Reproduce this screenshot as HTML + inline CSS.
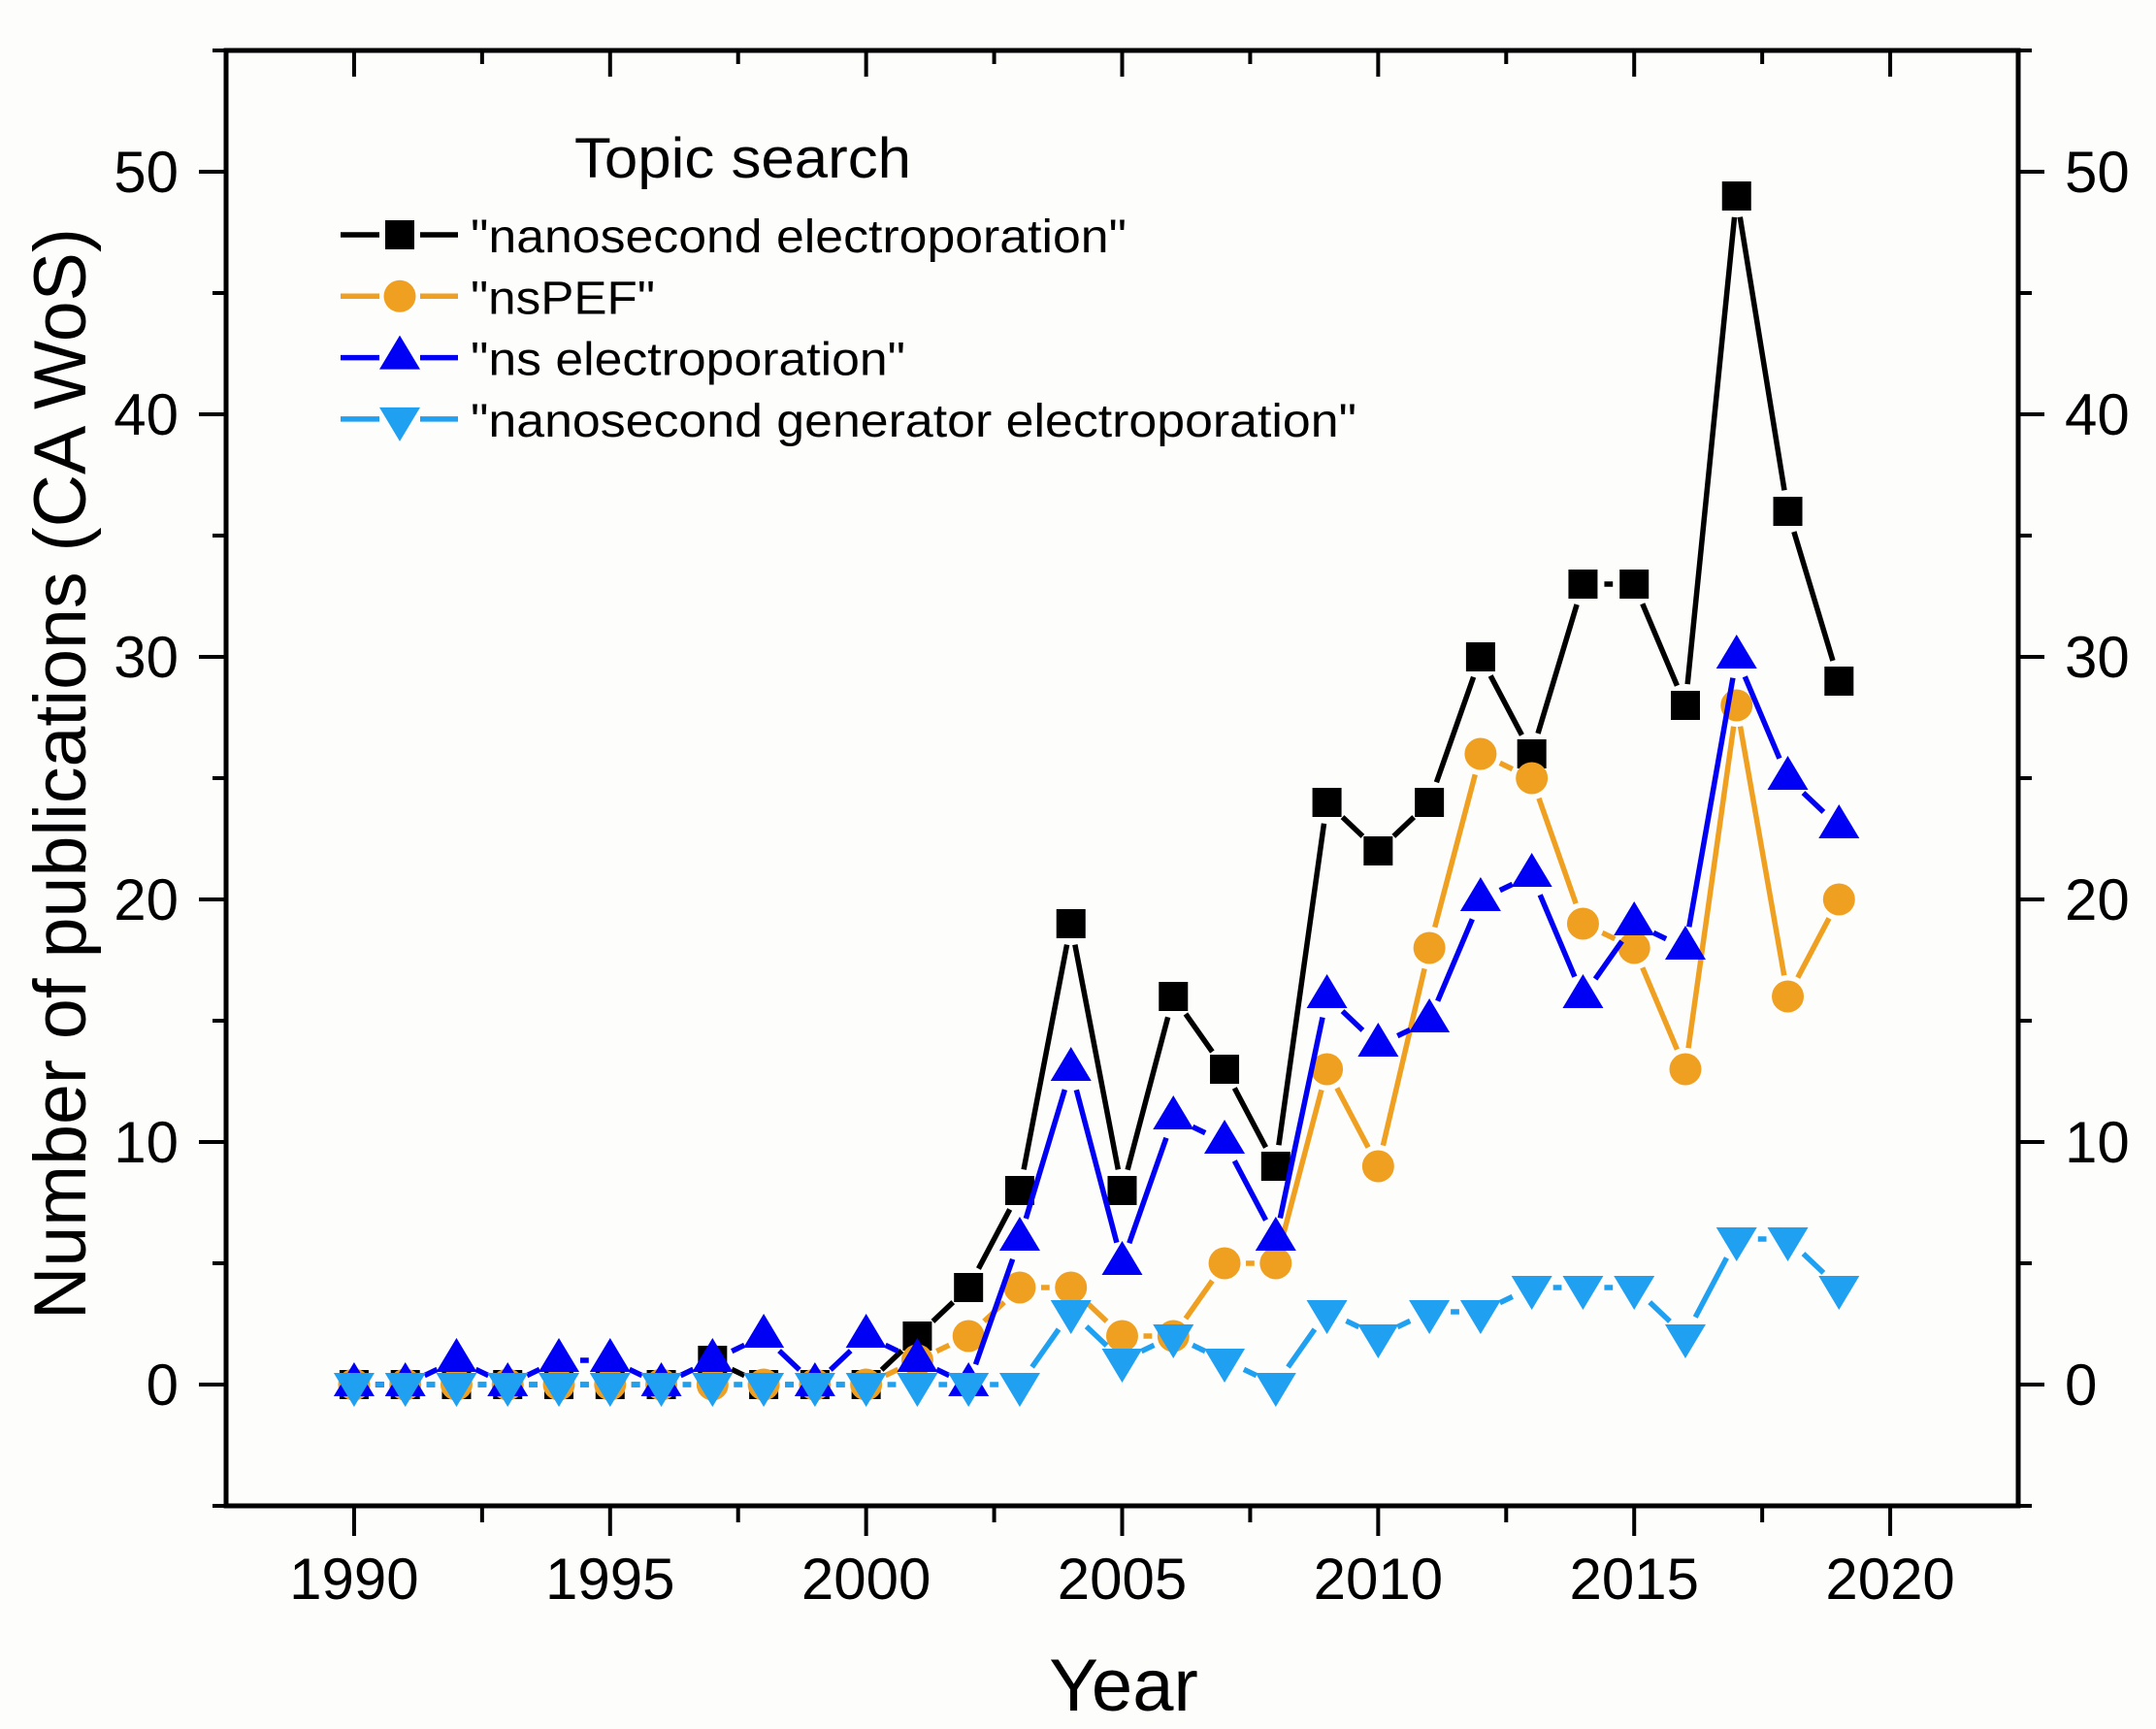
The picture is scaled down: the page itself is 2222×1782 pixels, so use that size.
<!DOCTYPE html>
<html><head><meta charset="utf-8">
<style>
html,body{margin:0;padding:0;background:#fdfdfb;}
svg{display:block;font-family:"Liberation Sans",Arial,sans-serif;}
</style></head>
<body>
<svg id="chart" width="2222" height="1782" viewBox="0 0 2222 1782" xmlns="http://www.w3.org/2000/svg">
<rect x="0" y="0" width="2222" height="1782" fill="#fdfdfb"/>
<g id="series"></g>
<g id="axes"></g>
<g id="legend">
  <text x="592" y="183" font-size="58" textLength="347" lengthAdjust="spacingAndGlyphs">Topic search</text>
</g>
<text x="1158" y="1763" font-size="76" text-anchor="middle">Year</text>
<text transform="translate(88,1360) rotate(-90)" font-size="76" textLength="1125" lengthAdjust="spacingAndGlyphs">Number of publications (CA WoS)</text>
</svg>
<script>
const years = [1990,1991,1992,1993,1994,1995,1996,1997,1998,1999,2000,2001,2002,2003,2004,2005,2006,2007,2008,2009,2010,2011,2012,2013,2014,2015,2016,2017,2018,2019];
const nanoElectro = [0,0,0,0,0,0,0,1,0,0,0,2,4,8,19,8,16,13,9,24,22,24,30,26,33,33,28,49,36,29];
const nsPEF = [0,0,0,0,0,0,0,0,0,0,0,1,2,4,4,2,2,5,5,13,9,18,26,25,19,18,13,28,16,20];
const nsElectro = [0,0,1,0,1,1,0,1,2,0,2,1,0,6,13,5,11,10,6,16,14,15,20,21,16,19,18,30,25,23];
const genElectro = [0,0,0,0,0,0,0,0,0,0,0,0,0,0,3,1,2,1,0,3,2,3,3,4,4,4,2,6,6,4];
const xTicks = [1990,1995,2000,2005,2010,2015,2020];
const yTicks = [0,10,20,30,40,50];
const legendLabels = ['"nanosecond electroporation"','"nsPEF"','"ns electroporation"','"nanosecond generator electroporation"'];
const legendWidths = [676,190,448,913];

const NS='http://www.w3.org/2000/svg';
const L=233,R=2080,T=52,B=1552;
const X0=1987.5,X1=2022.5,Y0=-5,Y1=55;
function sx(v){return L+(v-X0)/(X1-X0)*(R-L);}
function sy(v){return B-(v-Y0)/(Y1-Y0)*(B-T);}
function mk(tag,attrs,parent){const e=document.createElementNS(NS,tag);for(const k in attrs)e.setAttribute(k,attrs[k]);parent.appendChild(e);return e;}

const axes=document.getElementById('axes');
const seriesG=document.getElementById('series');
const legend=document.getElementById('legend');

function marker(shape,cx,cy,color,parent){
  let e;
  if(shape==='square'){e=mk('rect',{x:cx-15,y:cy-15,width:30,height:30,fill:color},parent);}
  else if(shape==='circle'){e=mk('circle',{cx:cx,cy:cy,r:16.5,fill:color},parent);}
  else if(shape==='up'){e=mk('polygon',{points:`${cx},${cy-23} ${cx-21},${cy+12} ${cx+21},${cy+12}`,fill:color},parent);}
  else {e=mk('polygon',{points:`${cx},${cy+23} ${cx-21},${cy-12} ${cx+21},${cy-12}`,fill:color},parent);}
  return e;
}

const defs=[
  {vals:nanoElectro,color:'#000000',shape:'square',name:'nanosecond-electroporation'},
  {vals:nsPEF,color:'#f0a020',shape:'circle',name:'nspef'},
  {vals:nsElectro,color:'#0000f5',shape:'up',name:'ns-electroporation'},
  {vals:genElectro,color:'#20a0f0',shape:'down',name:'nanosecond-generator-electroporation'}
];
const GAP=22;
defs.forEach((d,si)=>{
  const g=mk('g',{},seriesG);
  
  
  for(let i=0;i<years.length-1;i++){
    const x1=sx(years[i]),y1=sy(d.vals[i]),x2=sx(years[i+1]),y2=sy(d.vals[i+1]);
    const dx=x2-x1,dy=y2-y1,len=Math.hypot(dx,dy);
    if(len<=2*GAP+2)continue;
    const ux=dx/len,uy=dy/len;
    const seg=mk('line',{x1:x1+ux*GAP,y1:y1+uy*GAP,x2:x2-ux*GAP,y2:y2-uy*GAP,stroke:d.color,'stroke-width':5.5},g);
    
    
  }
  years.forEach((yr,i)=>{
    const m=marker(d.shape,sx(yr),sy(d.vals[i]),d.color,g);
    
    
  });
  const ly=242+si*63.3;
  const le=mk('g',{},legend);
  
  
  mk('line',{x1:351,y1:ly,x2:391,y2:ly,stroke:d.color,'stroke-width':5.5},le);
  mk('line',{x1:433,y1:ly,x2:472,y2:ly,stroke:d.color,'stroke-width':5.5},le);
  marker(d.shape,412,ly,d.color,le);
  const t=mk('text',{x:485,y:ly+18,'font-size':48,fill:'#000',textLength:legendWidths[si],lengthAdjust:'spacingAndGlyphs'},le);
  t.textContent=legendLabels[si];
});

const frame=mk('rect',{x:L,y:T,width:R-L,height:B-T,fill:'none',stroke:'#000','stroke-width':5},axes);


for(let yr=1990;yr<=2022;yr+=2.5){
  const major=(yr%5===0);
  const x=sx(yr);
  mk('line',{x1:x,y1:B,x2:x,y2:B+(major?31:17),stroke:'#000','stroke-width':4},axes);
  mk('line',{x1:x,y1:T,x2:x,y2:T+(major?27:14),stroke:'#000','stroke-width':4},axes);
}
xTicks.forEach(v=>{
  const t=mk('text',{x:sx(v),y:1648,'font-size':60,'text-anchor':'middle'},axes);
  
  
  t.textContent=v;
});
for(let v=-5;v<=55;v+=5){
  const major=(v%10===0);
  const y=sy(v);
  mk('line',{x1:L-(major?28:14),y1:y,x2:L,y2:y,stroke:'#000','stroke-width':4},axes);
  mk('line',{x1:R,y1:y,x2:R+(major?27:14),y2:y,stroke:'#000','stroke-width':4},axes);
}
yTicks.forEach(v=>{
  const t=mk('text',{x:184,y:sy(v)+21,'font-size':60,'text-anchor':'end'},axes);
  
  
  t.textContent=v;
  const t2=mk('text',{x:2128,y:sy(v)+21,'font-size':60},axes);
  
  
  t2.textContent=v;
});
</script>
</body></html>
